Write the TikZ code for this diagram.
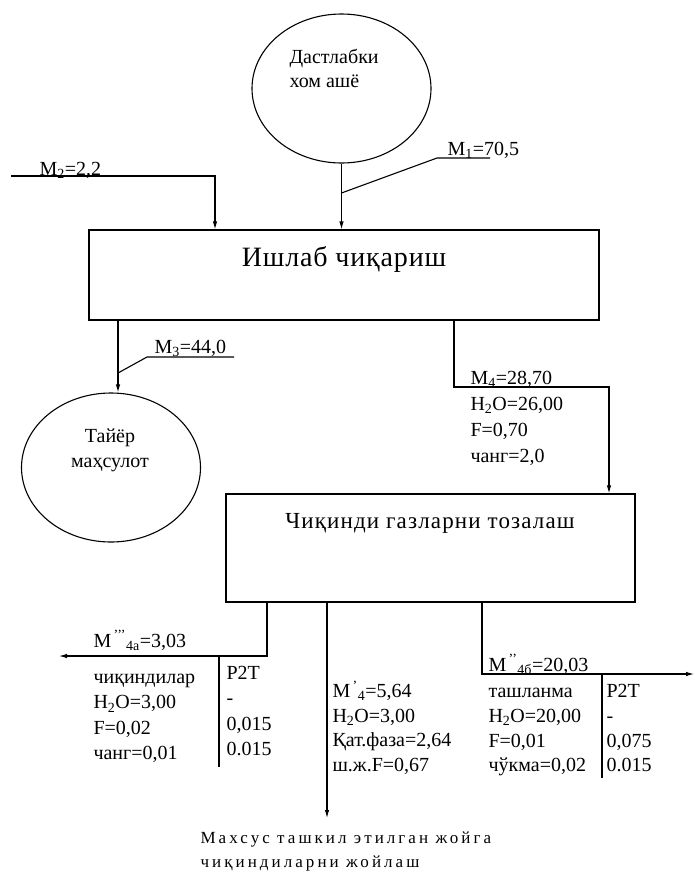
\documentclass[tikz,border=0pt]{standalone}
\usepackage{fontspec}
\setmainfont{Liberation Serif}
\usepackage{tikz}
\usetikzlibrary{arrows.meta,positioning,shapes.geometric}
\newcommand\lblfont{\fontsize{20}{25.5}\selectfont}

\begin{document}
\begin{tikzpicture}[x=1pt,y=-1pt,line width=1.1pt,
   unit/.style={draw,rectangle,inner sep=0pt},
   pool/.style={draw,ellipse,inner sep=0pt,minimum width=179pt,minimum height=149pt},
   flow/.style={-{Latex[length=8pt,width=4.5pt]}},
   lbl/.style={inner sep=0pt,font=\lblfont,align=left},
   blk/.style={lbl,anchor=north west}]
  \path[use as bounding box,fill=white] (0,0) rectangle (695,876);
  % raw material and production
  \node[pool] (raw) at (341.5,88.5) {};
  \node[blk,font=\fontsize{20}{24}\selectfont] (rawtxt) at (289,46) {\strut Дастлабки\\хом ашё};
  \node[unit,minimum width=510pt,minimum height=90pt] (prod) at (344,275) {};
  \node[lbl,anchor=base,font=\fontsize{28}{30}\selectfont\addfontfeatures{LetterSpace=3}] (prodtxt)
       at (344,266) {Ишлаб чиқариш};
  \coordinate (m2in) at (11,176);
  \draw[flow] (m2in) -| ([xshift=-129pt]prod.north);
  \node[lbl,anchor=base west] (m2) at (39,175) {M\textsubscript{2}=2,2};
  \draw[flow] (raw) -- (raw |- prod.north);
  \coordinate (m1o) at (341.5,193);
  \coordinate (m1k) at (437,158);
  \coordinate (m1e) at (490,158);
  \draw (m1o) -- (m1k) -- (m1e);
  \node[lbl,anchor=base west] (m1) at (447,155) {M\textsubscript{1}=70,5};
  % ready product
  \coordinate (o3) at (118,320);
  \node[pool] (ready) at (111,467.5) {};
  \draw[flow] (o3) -- (o3 |- ready.north);
  \node[lbl,anchor=north,align=center,font=\fontsize{20}{25}\selectfont] (readytxt)
       at (110,424.5) {\strut Тайёр\\маҳсулот};
  \coordinate (m3o) at (118,373);
  \coordinate (m3k) at (147,357);
  \coordinate (m3e) at (234,357);
  \draw (m3o) -- (m3k) -- (m3e);
  \node[lbl,anchor=base west] (m3) at (154,353) {M\textsubscript{3}=44,0};
  % gas cleaning
  \node[unit,minimum width=409pt,minimum height=108pt] (clean) at (430.5,548) {};
  \node[lbl,anchor=base,font=\fontsize{23}{25}\selectfont\addfontfeatures{LetterSpace=5}] (cleantxt)
       at (430,528) {Чиқинди газларни тозалаш};
  \coordinate (o4) at (454,320);
  \coordinate (k4) at (454,387);
  \draw[flow] (o4) -- (k4) -| ([xshift=178.5pt]clean.north);
  \node[blk,font=\fontsize{20}{26}\selectfont] (m4) at (470,366)
       {\strut M\textsubscript{4}=28,70\\H\textsubscript{2}O=26,00\\F=0,70\\чанг=2,0};
  % outputs of cleaning
  \coordinate (o4a) at (267,602);
  \coordinate (e4a) at (59,656);
  \draw[flow] (o4a) |- (e4a);
  \node[lbl,anchor=base west] (m4a) at (93,647) {M\textsuperscript{\,’’’}\textsubscript{4а}=3,03};
  \coordinate (s4a) at (219,656);
  \draw (s4a) -- ++(0,111);
  \node[blk] (m4atxt) at (93,665) {\strut чиқиндилар\\H\textsubscript{2}O=3,00\\F=0,02\\чанг=0,01};
  \node[blk] (m4aval) at (226,661) {\strut P2T\\-\\0,015\\0.015};
  \coordinate (o4m) at (327,602);
  \coordinate (e4m) at (327,818);
  \draw[flow] (o4m) -- (e4m);
  \node[blk,font=\fontsize{20}{24.5}\selectfont] (m4m) at (332,680)
       {\strut M\textsuperscript{\,’}\textsubscript{4}=5,64\\H\textsubscript{2}O=3,00\\Қат.фаза=2,64\\ш.ж.F=0,67};
  \coordinate (o4b) at (482,602);
  \coordinate (e4b) at (694,674);
  \draw[flow] (o4b) |- (e4b);
  \node[lbl,anchor=base west] (m4b) at (488,671) {M\textsuperscript{\,’’}\textsubscript{4б}=20,03};
  \coordinate (s4b) at (602,674);
  \draw (s4b) -- ++(0,104);
  \node[blk,font=\fontsize{20}{24.7}\selectfont] (m4btxt) at (488,680)
       {\strut ташланма\\H\textsubscript{2}O=20,00\\F=0,01\\чўкма=0,02};
  \node[blk,font=\fontsize{20}{24.7}\selectfont] (m4bval) at (606,680) {\strut P2T\\-\\0,075\\0.015};
  \node[blk,font=\fontsize{17}{24}\selectfont\addfontfeatures{LetterSpace=18}] (dump)
       at (200,826) {\strut Махсус ташкил этилган жойга\\чиқиндиларни жойлаш};
\end{tikzpicture}
\end{document}
